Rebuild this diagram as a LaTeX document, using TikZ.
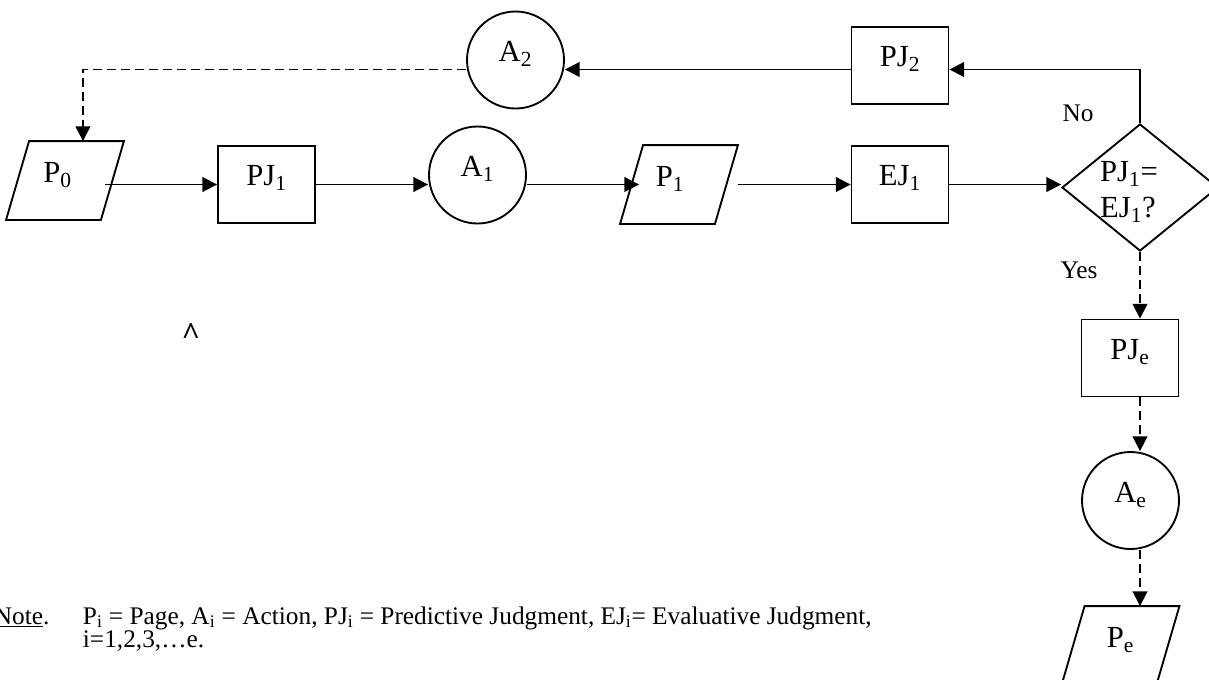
\documentclass[tikz,border=0pt]{standalone}
\usepackage{fontspec}
\setmainfont{Liberation Serif}
\usetikzlibrary{shapes.geometric,arrows.meta}
% #1 node name, #2 horizontal offset of the outline (pt)
\newcommand{\paraoutline}[2]{\draw ([xshift=8.625pt+#2]#1.north west) -- ([xshift=8.625pt+#2]#1.north east) -- ([xshift=-8.625pt+#2]#1.south east) -- ([xshift=-8.625pt+#2]#1.south west) -- cycle;}
\begin{document}
\begin{tikzpicture}[x=0.75pt,y=-0.75pt,
  line width=1.4pt,
  every node/.style={font=\fontsize{23}{27.6}\selectfont},
  box/.style={draw, rectangle, minimum width=72.75pt, minimum height=57.75pt, inner sep=0pt, text height=0.72em, text depth=0.5em},
  circ/.style={draw, circle, minimum size=72.75pt, inner sep=0pt, text height=0.7em, text depth=0.45em},
  parabox/.style={rectangle, minimum width=69.75pt, minimum height=57.75pt, inner sep=0pt, text height=0.7em, text depth=0.45em},
  decision/.style={draw, diamond, aspect=1.23, minimum width=117pt, minimum height=95.25pt, inner sep=0pt},
  lbl/.style={font=\fontsize{19}{23}\selectfont, inner sep=0pt},
  arr/.style={-{Triangle[length=11pt,width=11pt]}},
  dsh/.style={arr, dash pattern=on 6.5pt off 4pt}
]
\useasboundingbox (0,0) rectangle (1209,679);
\clip (0,0) rectangle (1209,679);

% nodes
\node[parabox] (p0) at (57.5,180.5) {P\textsubscript{0}};
\paraoutline{p0}{5.625pt}
\node[box] (pj1) at (266.5,184.5) {PJ\textsubscript{1}};
\node[circ] (a1) at (477.5,175) {A\textsubscript{1}};
\node[parabox] (p1) at (670,184.5) {P\textsubscript{1}};
\paraoutline{p1}{6.75pt}
\node[box] (ej1) at (900,184.5) {EJ\textsubscript{1}};
\node[decision] (dec) at (1140,187.5) {};
\node[align=left, inner sep=0pt] (dectxt) at (1129,192) {PJ\textsubscript{1}=\\EJ\textsubscript{1}?};
\node[box] (pj2) at (900,65.5) {PJ\textsubscript{2}};
\node[circ] (a2) at (515.5,60) {A\textsubscript{2}};
\node[box] (pje) at (1130,358) {PJ\textsubscript{e}};
\node[circ] (ae) at (1130.5,500.5) {A\textsubscript{e}};
\node[parabox] (pe) at (1120.5,645.5) {P\textsubscript{e}};
\paraoutline{pe}{0pt}

% labels
\node[lbl] (no) at (1078,113) {No};
\node[lbl] (yes) at (1079,270) {Yes};
\node[lbl, font=\fontsize{24}{28}\selectfont\bfseries] (caret) at (191,334) {\textasciicircum};
\node[lbl, anchor=base west] (note) at (-7,624) {\underline{Note}.};
\node[lbl, anchor=base west] (notea) at (82,624) {P\textsubscript{i} = Page, A\textsubscript{i} = Action, PJ\textsubscript{i} = Predictive Judgment, EJ\textsubscript{i}= Evaluative Judgment,};
\node[lbl, anchor=base west] (noteb) at (82,647) {i=1,2,3,…e.};

% connectors
\draw[arr] (p0.east |- pj1.west) -- (pj1.west);
\draw[arr] (pj1.east) -- (pj1.east -| a1.west);
\draw[arr] (a1.east |- pj1.east) -- ([xshift=12.4pt]p1.west |- pj1.east);
\draw[arr] ([xshift=15.4pt]p1.east |- ej1.west) -- (ej1.west);
\draw[arr] (ej1.east) -- (ej1.east -| dec.west);
\draw[arr] (dec.north) |- ([yshift=-3pt]pj2.east);
\draw[arr] ([yshift=-3pt]pj2.west) -- ([yshift=-3pt]pj2.west -| a2.east);
\draw[dsh] ([yshift=-3pt]a2.west |- pj2.west) -| ([xshift=19.1pt]p0.north);
\draw[dsh] (dec.south) -- (dec.south |- pje.north);
\draw[dsh] (dec.south |- pje.south) -- (dec.south |- ae.north);
\draw[dsh] (dec.south |- ae.south) -- (dec.south |- pe.north);
\end{tikzpicture}
\end{document}
